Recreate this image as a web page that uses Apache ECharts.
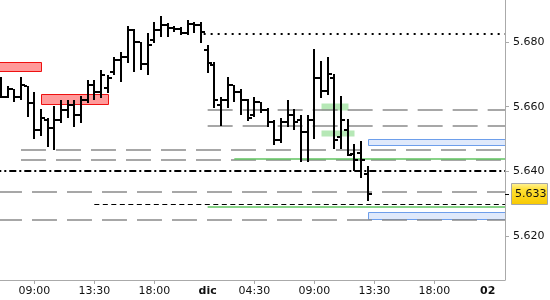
<!DOCTYPE html>
<html><head><meta charset="utf-8">
<script src="https://cdn.jsdelivr.net/npm/echarts@6/dist/echarts.min.js"></script>
<style>html,body{margin:0;padding:0;background:#fff}#c{width:550px;height:300px}</style>
</head><body><div id="c"></div>
<script>
// ---- data ----
const times = ['06:30','07:00','07:30','08:00','08:30','09:00','09:30','10:00','10:30','11:00','11:30','12:00','12:30','13:00','13:30','14:00','14:30','15:00','15:30','16:00','16:30','17:00','17:30','18:00','18:30','19:00','19:30','20:00','20:30','21:00','21:30',
  '01:00','01:30','02:00','02:30','03:00','03:30','04:00','04:30','05:00','05:30','06:00','06:30','07:00','07:30','08:00','08:30','09:00','09:30','10:00','10:30','11:00','11:30','12:00','12:30','13:00'];
const opens = [5.6683,5.6630,5.6655,5.6630,5.6664,5.6611,5.6528,5.6559,5.6534,5.6559,5.6590,5.6605,5.6574,5.6621,5.6667,5.6645,5.6658,5.6707,5.6744,5.6754,5.6837,5.6800,5.6732,5.6806,5.6837,5.6853,5.6843,5.6840,5.6828,5.6856,5.6853,
  5.6775,5.6729,5.6605,5.6621,5.6667,5.6645,5.6621,5.6574,5.6615,5.6590,5.6553,5.6497,5.6553,5.6574,5.6559,5.6522,5.6559,5.6689,5.6649,5.6689,5.6506,5.6528,5.6454,5.6457,5.6392];
const highs = [5.6692,5.6664,5.6655,5.6692,5.6664,5.6645,5.6593,5.6565,5.6602,5.6621,5.6621,5.6621,5.6633,5.6683,5.6683,5.6713,5.6698,5.6754,5.6769,5.6849,5.6840,5.6800,5.6828,5.6862,5.6880,5.6859,5.6849,5.6846,5.6868,5.6862,5.6862,
  5.6791,5.6738,5.6630,5.6692,5.6667,5.6655,5.6624,5.6630,5.6615,5.6596,5.6559,5.6565,5.6621,5.6593,5.6574,5.6574,5.6778,5.6741,5.6754,5.6701,5.6633,5.6562,5.6485,5.6494,5.6417];
const lows = [5.6627,5.6627,5.6615,5.6621,5.6568,5.6500,5.6509,5.6476,5.6466,5.6550,5.6565,5.6537,5.6550,5.6611,5.6621,5.6627,5.6642,5.6698,5.6676,5.6735,5.6707,5.6713,5.6698,5.6797,5.6815,5.6815,5.6831,5.6822,5.6822,5.6828,5.6797,
  5.6704,5.6596,5.6540,5.6596,5.6615,5.6574,5.6556,5.6568,5.6581,5.6537,5.6482,5.6488,5.6537,5.6528,5.6429,5.6429,5.6500,5.6627,5.6636,5.6469,5.6469,5.6448,5.6401,5.6380,5.6308];
const closes = [5.6630,5.6655,5.6630,5.6667,5.6611,5.6528,5.6565,5.6534,5.6559,5.6590,5.6605,5.6574,5.6621,5.6667,5.6645,5.6698,5.6689,5.6744,5.6754,5.6837,5.6800,5.6732,5.6791,5.6837,5.6853,5.6843,5.6840,5.6828,5.6856,5.6853,5.6831,
  5.6735,5.6621,5.6621,5.6667,5.6645,5.6621,5.6565,5.6615,5.6590,5.6553,5.6497,5.6553,5.6574,5.6553,5.6522,5.6559,5.6689,5.6649,5.6701,5.6497,5.6559,5.6451,5.6435,5.6435,5.6330];

const xTickIdx = [5,14,23,38,47,56,65];
const xLabelIdx = [5,14,23,31,38,47,56,65,73];
const xLabelText = ['09:00','13:30','18:00','dic','04:30','09:00','13:30','18:00','02'];
const xBoldLabels = ['dic','02'];
const yTicks = [5.62,5.64,5.66,5.68];
const lastPrice = 5.633;

// horizontal levels (start index, value)
const dottedStart = [30.4], dottedLevel = [5.6825];
const dashDotStart = [-1], dashDotLevel = [5.6400];
const shortDashStart = [14], shortDashLevel = [5.6298];
const grayStart = [31,31,3,3,-0.6,-0.6], grayLevel = [5.6590,5.6540,5.6465,5.6434,5.6337,5.6249];
const greenStart = [35,31], greenLevel = [5.6437,5.6289];

// zones [from index, to index, low, high]
const redFrom = [-2,6], redTo = [6,16], redLow = [5.6710,5.6607], redHigh = [5.6737,5.6640];
const greenZFrom = [48,48], greenZTo = [52,53], greenZLow = [5.6590,5.6509], greenZHigh = [5.6611,5.6528];
const blueFrom = [55,55], blueTo = [80,80], blueLow = [5.6480,5.6252], blueHigh = [5.6499,5.6274];

// ---- chart ----
const X_MIN = -0.145, X_MAX = 75.6;
const FONT = 'DejaVu Sans';
const chart = echarts.init(document.getElementById('c'), null, {renderer:'canvas'});

const ohlc = times.map((t,i)=>[i, opens[i], highs[i], lows[i], closes[i]]);

function levelSeries(starts, levels, style, z){
  return {
    type:'custom', clip:true, z:z, silent:true,
    data: starts.map((s,i)=>[s, levels[i]]),
    encode:{x:0,y:1},
    renderItem(params, api){
      const a = api.coord([api.value(0), api.value(1)]);
      const b = api.coord([X_MAX, api.value(1)]);
      const y = Math.round(a[1]) + (style.lineWidth % 2 === 1 ? 0.5 : 0);
      return {type:'line', shape:{x1:a[0],y1:y,x2:b[0],y2:y}, style:Object.assign({fill:null}, style)};
    }
  };
}
function zoneSeries(from,to,low,high,style,z){
  return {
    type:'custom', clip:true, z:z, silent:true,
    data: from.map((f,i)=>[f, to[i], low[i], high[i]]),
    encode:{x:[0,1],y:[2,3]},
    renderItem(params, api){
      const a = api.coord([api.value(0), api.value(3)]);
      const b = api.coord([api.value(1), api.value(2)]);
      const x0 = Math.round(a[0]) + 0.5, y0 = Math.round(a[1]) + 0.5;
      const x1 = Math.round(b[0]) + 0.5, y1 = Math.round(b[1]) + 0.5;
      return {type:'rect', shape:{x:x0, y:y0, width:x1-x0, height:y1-y0}, style:style};
    }
  };
}

const option = {
  animation:false,
  backgroundColor:'#fff',
  grid:{left:0, right:45, top:0, bottom:20, containLabel:false},
  xAxis:{
    type:'value', min:X_MIN, max:X_MAX,
    axisLine:{show:true, onZero:false, lineStyle:{color:'#aaaaaa', width:1}},
    axisTick:{show:true, customValues:xTickIdx, length:4, lineStyle:{color:'#aaaaaa'}},
    axisLabel:{show:true, customValues:xLabelIdx, margin:6, fontFamily:FONT, fontSize:11, color:'#111',
      formatter(v){
        const j = xLabelIdx.indexOf(Math.round(v));
        if (j < 0) return '';
        const t = xLabelText[j];
        return xBoldLabels.indexOf(t) >= 0 ? '{b|' + t + '}' : t;
      },
      rich:{b:{fontWeight:'bold', fontFamily:FONT, fontSize:11, color:'#111'}}
    },
    splitLine:{show:false}
  },
  yAxis:{
    type:'value', position:'right', min:5.6064, max:5.6930, scale:true,
    axisLine:{show:true, onZero:false, lineStyle:{color:'#aaaaaa', width:1}},
    axisTick:{show:true, customValues:yTicks, length:4, lineStyle:{color:'#aaaaaa'}},
    axisLabel:{show:true, customValues:yTicks, margin:8, fontFamily:FONT, fontSize:11, color:'#111',
      formatter:v=>v.toFixed(3)},
    splitLine:{show:false}
  },
  series:[
    zoneSeries(redFrom,redTo,redLow,redHigh,{fill:'#ff9a9a', stroke:'#ee1111', lineWidth:1},1),
    zoneSeries(greenZFrom,greenZTo,greenZLow,greenZHigh,{fill:'#b6e8b6'},1),
    zoneSeries(blueFrom,blueTo,blueLow,blueHigh,{fill:'#dfe9fb', stroke:'#6d9eeb', lineWidth:1},1),
    levelSeries(grayStart, grayLevel, {stroke:'#8a8a8a', lineWidth:1.3, lineDash:[25,10]}, 2),
    levelSeries(greenStart, greenLevel, {stroke:'#5fc35f', lineWidth:1.5}, 2),
    levelSeries(dottedStart, dottedLevel, {stroke:'#000', lineWidth:2, lineDash:[2,5]}, 3),
    levelSeries(dashDotStart, dashDotLevel, {stroke:'#000', lineWidth:2, lineDash:[7,3,2,3]}, 3),
    levelSeries(shortDashStart, shortDashLevel, {stroke:'#000', lineWidth:1, lineDash:[5,3.5]}, 3),
    {
      type:'custom', clip:true, z:5, silent:true,
      data: ohlc, encode:{x:0, y:[1,2,3,4]},
      renderItem(params, api){
        const i = api.value(0);
        const o = api.coord([i, api.value(1)]);
        const h = api.coord([i, api.value(2)]);
        const l = api.coord([i, api.value(3)]);
        const c = api.coord([i, api.value(4)]);
        const cx = Math.round(h[0]);
        const st = {fill:'#000'};
        return {type:'group', children:[
          {type:'rect', shape:{x:cx-1, y:Math.round(h[1]), width:2, height:Math.max(2, Math.round(l[1])-Math.round(h[1]))}, style:st},
          {type:'rect', shape:{x:cx-4, y:Math.round(o[1])-1, width:3, height:2}, style:st},
          {type:'rect', shape:{x:cx+1, y:Math.round(c[1])-1, width:3, height:2}, style:st}
        ]};
      }
    },
    {
      type:'custom', clip:false, z:10, silent:true,
      data:[[X_MAX, lastPrice]], encode:{x:0,y:1},
      renderItem(params, api){
        const p = api.coord([api.value(0), api.value(1)]);
        const px = Math.round(p[0]), py = Math.round(p[1]);
        return {type:'group', children:[
          {type:'line', shape:{x1:px, y1:py+0.5, x2:px+4, y2:py+0.5}, style:{stroke:'#000', lineWidth:1}},
          {type:'rect', shape:{x:px+6.5, y:py-10.5, width:36, height:21},
            style:{fill:new echarts.graphic.LinearGradient(0,0,0,1,[{offset:0,color:'#fff3a0'},{offset:0.3,color:'#ffe033'},{offset:1,color:'#f7c800'}]), stroke:'#a6a6a6', lineWidth:1}},
          {type:'text', x:px+10, y:py+0.5, style:{text:lastPrice.toFixed(3), fill:'#111', font:'11px "DejaVu Sans"', verticalAlign:'middle', align:'left'}}
        ]};
      }
    }
  ]
};
chart.setOption(option);
</script>
</body></html>
